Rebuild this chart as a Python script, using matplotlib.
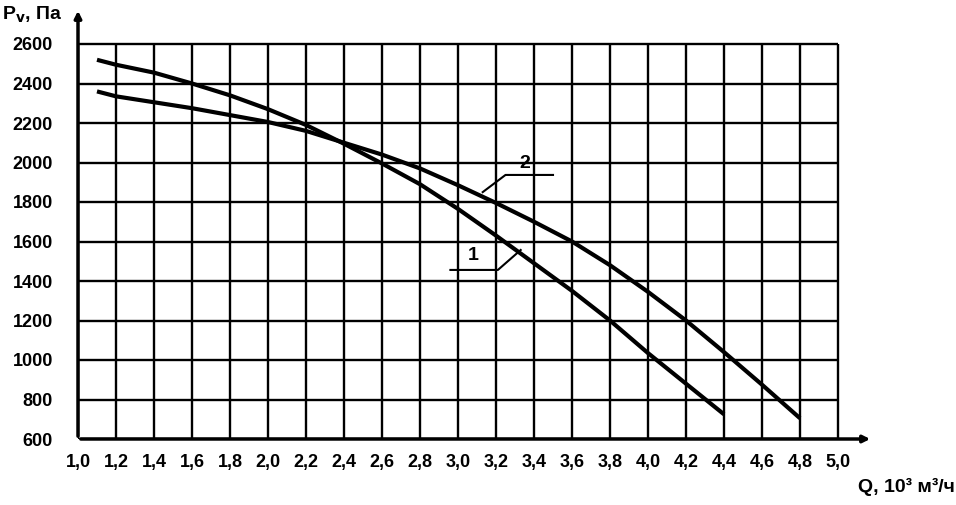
import numpy as np
import matplotlib
matplotlib.use('Agg')
import matplotlib.pyplot as plt

plt.rcParams['font.family'] = ['Liberation Sans', 'DejaVu Sans']

# данные кривых (Q, 10^3 м3/ч ; Pv, Па)
q1 = [1.1, 1.2, 1.4, 1.6, 1.8, 2.0, 2.2, 2.4, 2.6, 2.8, 3.0, 3.2, 3.4, 3.6, 3.8, 4.0, 4.2, 4.4]
p1 = [2520, 2495, 2455, 2400, 2340, 2270, 2190, 2095, 1995, 1890, 1765, 1630, 1490, 1350, 1200, 1035, 880, 725]

q2 = [1.1, 1.2, 1.4, 1.6, 1.8, 2.0, 2.2, 2.4, 2.6, 2.8, 3.0, 3.2, 3.4, 3.6, 3.8, 4.0, 4.2, 4.4, 4.6, 4.8]
p2 = [2360, 2335, 2305, 2275, 2240, 2205, 2160, 2100, 2040, 1970, 1885, 1795, 1700, 1600, 1480, 1345, 1200, 1040, 875, 705]

x_ticks = [1.0, 1.2, 1.4, 1.6, 1.8, 2.0, 2.2, 2.4, 2.6, 2.8, 3.0, 3.2, 3.4, 3.6, 3.8, 4.0, 4.2, 4.4, 4.6, 4.8, 5.0]
y_ticks = [600, 800, 1000, 1200, 1400, 1600, 1800, 2000, 2200, 2400, 2600]

fig = plt.figure(figsize=(9.56, 5.05), dpi=100)
ax = fig.add_axes([78/956, 1 - 439/505, (873-78)/956, (439-8)/505])

xmax = 1.0 + (873-78)/190
ymax = 600 + (439-8)/39.5*200
ax.set_xlim(1.0, xmax)
ax.set_ylim(600, ymax)

# сетка
ax.hlines(y_ticks, 1.0, 5.0, colors='black', lw=1.7)
ax.vlines(x_ticks, 600, 2600, colors='black', lw=1.7)

# оси со стрелками
for s in ['top', 'right', 'left', 'bottom']:
    ax.spines[s].set_visible(False)
ax.annotate('', xy=(xmax, 600), xytext=(1.0, 600),
            arrowprops=dict(arrowstyle='-|>', lw=2.5, color='black', mutation_scale=10),
            annotation_clip=False)
ax.annotate('', xy=(1.0, ymax), xytext=(1.0, 600),
            arrowprops=dict(arrowstyle='-|>', lw=2.5, color='black', mutation_scale=10),
            annotation_clip=False)

# кривые
ax.plot(q1, p1, color='black', lw=3, solid_capstyle='butt')
ax.plot(q2, p2, color='black', lw=3, solid_capstyle='butt')

# выноски
ax.plot([3.13, 3.25, 3.5], [1850, 1937, 1937], color='black', lw=1.5)
ax.text(3.35, 1995, '2', fontsize=14, fontweight='bold', ha='center', va='center')
ax.plot([3.33, 3.21, 2.96], [1557, 1456, 1456], color='black', lw=1.5)
ax.text(3.08, 1530, '1', fontsize=14, fontweight='bold', ha='center', va='center')

ax.set_xticks(x_ticks)
ax.set_xticklabels([f'{v:.1f}'.replace('.', ',') for v in x_ticks])
ax.set_yticks(y_ticks)
ax.set_yticklabels([str(v) for v in y_ticks])
ax.tick_params(axis='x', length=0, labelsize=13, pad=11)
ax.tick_params(axis='y', length=0, labelsize=13, pad=18)
for lab in ax.get_xticklabels() + ax.get_yticklabels():
    lab.set_fontweight('bold')

fig.text(2/956, 1 - 15/505, 'P$_{\\mathbf{v}}$, Па', fontsize=14, fontweight='bold',
         ha='left', va='center')
fig.text(955/956, 1 - 487/505, 'Q, 10³ м³/ч', fontsize=14,
         fontweight='bold', ha='right', va='center')

fig.savefig('out.png', dpi=100)
